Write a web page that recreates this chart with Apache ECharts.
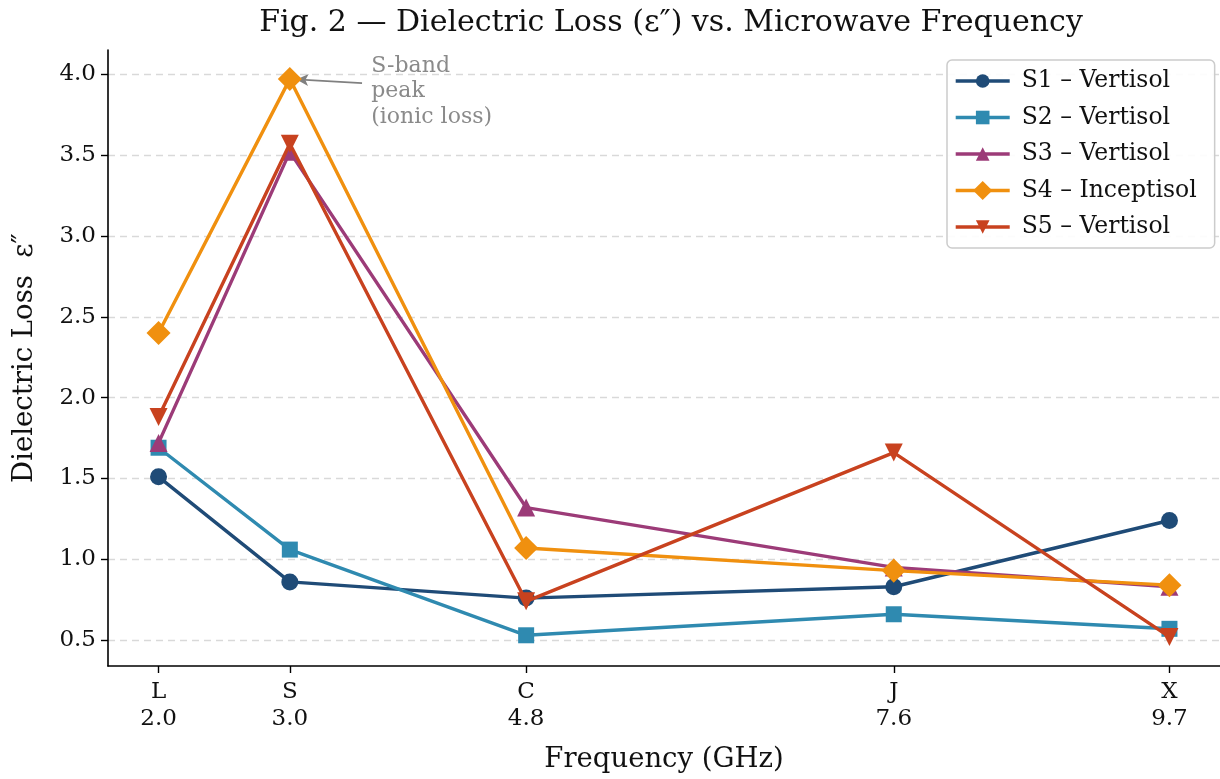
<!DOCTYPE html>
<html>
<head>
<meta charset="utf-8">
<script src="https://cdn.jsdelivr.net/npm/echarts@6/dist/echarts.min.js"></script>
<style>html,body{margin:0;padding:0;background:#fff}#c{width:1220px;height:779px}</style>
</head>
<body>
<div id="c"></div>
<script>
const freqs = [2.0, 3.0, 4.8, 7.6, 9.7];
const bands = ['L', 'S', 'C', 'J', 'X'];
const seriesNames = ['S1 – Vertisol', 'S2 – Vertisol', 'S3 – Vertisol', 'S4 – Inceptisol', 'S5 – Vertisol'];
const s1 = [1.51, 0.86, 0.76, 0.83, 1.24];
const s2 = [1.69, 1.06, 0.53, 0.66, 0.57];
const s3 = [1.72, 3.52, 1.32, 0.95, 0.83];
const s4 = [2.40, 3.97, 1.07, 0.93, 0.84];
const s5 = [1.88, 3.57, 0.74, 1.66, 0.52];
const yTicks = [0.5, 1.0, 1.5, 2.0, 2.5, 3.0, 3.5, 4.0];
const annotText = 'S-band\npeak\n(ionic loss)';

const FONT = '"DejaVu Serif", serif';
const colors = ['#1f4b77', '#2f8ab0', '#9c3b78', '#f0900f', '#c8421f'];
const symbols = ['circle', 'rect', 'triangle', 'rect', 'triangle'];
const rot = [0, 0, 0, 45, 180];
const sizes = [17, 16, 18, 17, 18];
const allData = [s1, s2, s3, s4, s5];

const series = allData.map((vals, i) => ({
  name: seriesNames[i],
  type: 'line',
  data: vals.map((v, k) => [freqs[k], v]),
  symbol: symbols[i],
  symbolRotate: rot[i],
  symbolSize: sizes[i],
  showAllSymbol: true,
  lineStyle: { color: colors[i], width: 3.4 },
  itemStyle: { color: colors[i], borderWidth: 0 },
  emphasis: { disabled: true },
  z: 3 + i
}));

// annotation
series[3].markLine = {
  silent: true,
  symbol: ['none', 'arrow'],
  symbolSize: [9, 12],
  label: { show: false },
  lineStyle: { color: '#808080', width: 1.8, type: 'solid' },
  data: [[{ coord: [3.55, 3.945] }, { coord: [3.05, 3.968] }]]
};
series[3].markPoint = {
  silent: true,
  symbol: 'circle',
  symbolSize: 0,
  data: [{ coord: [3.62, 4.13] }],
  label: {
    show: true,
    formatter: annotText,
    position: [0, 0],
    align: 'left',
    verticalAlign: 'top',
    color: '#8a8a8a',
    fontFamily: FONT,
    fontSize: 22,
    lineHeight: 25.5
  }
};

const chart = echarts.init(document.getElementById('c'), null, { renderer: 'canvas' });
chart.setOption({
  animation: false,
  backgroundColor: '#fff',
  title: {
    text: 'Fig. 2 — Dielectric Loss (ε″) vs. Microwave Frequency',
    left: 666, top: 3, textAlign: 'center',
    textStyle: { fontFamily: FONT, fontSize: 30, fontWeight: 'normal', color: '#111' }
  },
  legend: {
    left: 947, top: 60,
    orient: 'vertical',
    padding: [9, 18, 9, 7],
    itemWidth: 54, itemHeight: 17, itemGap: 12.5,
    backgroundColor: 'rgba(255,255,255,0.9)',
    borderColor: '#cccccc', borderWidth: 1.5, borderRadius: 5,
    lineStyle: { width: 3.4 },
    textStyle: { fontFamily: FONT, fontSize: 23.5, color: '#111', padding: [0, 0, 0, 7] },
    data: seriesNames
  },
  grid: { left: 108, right: 0, top: 50, bottom: 106, containLabel: false },
  xAxis: {
    type: 'value',
    min: 1.615, max: 10.085,
    name: 'Frequency (GHz)',
    nameLocation: 'middle', nameGap: 80,
    nameTextStyle: { fontFamily: FONT, fontSize: 27.5, color: '#111' },
    axisLine: { show: true, lineStyle: { color: '#000', width: 1.6 } },
    axisTick: { show: true, length: 7, lineStyle: { color: '#000', width: 1.4 }, customValues: freqs },
    axisLabel: {
      customValues: freqs,
      fontFamily: FONT, fontSize: 23, color: '#111', margin: 13, lineHeight: 27,
      formatter: v => {
        const k = freqs.findIndex(f => Math.abs(f - v) < 1e-6);
        return bands[k] + '\n' + v.toFixed(1);
      }
    },
    splitLine: { show: false }
  },
  yAxis: {
    type: 'value',
    min: 0.34, max: 4.15,
    name: 'Dielectric Loss  ε″',
    nameLocation: 'middle', nameGap: 69,
    nameTextStyle: { fontFamily: FONT, fontSize: 27.5, color: '#111' },
    axisLine: { show: true, lineStyle: { color: '#000', width: 1.6 } },
    axisTick: { show: true, length: 7, lineStyle: { color: '#000', width: 1.4 }, customValues: yTicks },
    axisLabel: {
      customValues: yTicks,
      fontFamily: FONT, fontSize: 23, color: '#111', margin: 12,
      formatter: v => v.toFixed(1)
    },
    splitLine: { show: true, lineStyle: { color: '#d9d9d9', type: [7, 5], width: 1.3 } }
  },
  series: series
});
</script>
</body>
</html>
